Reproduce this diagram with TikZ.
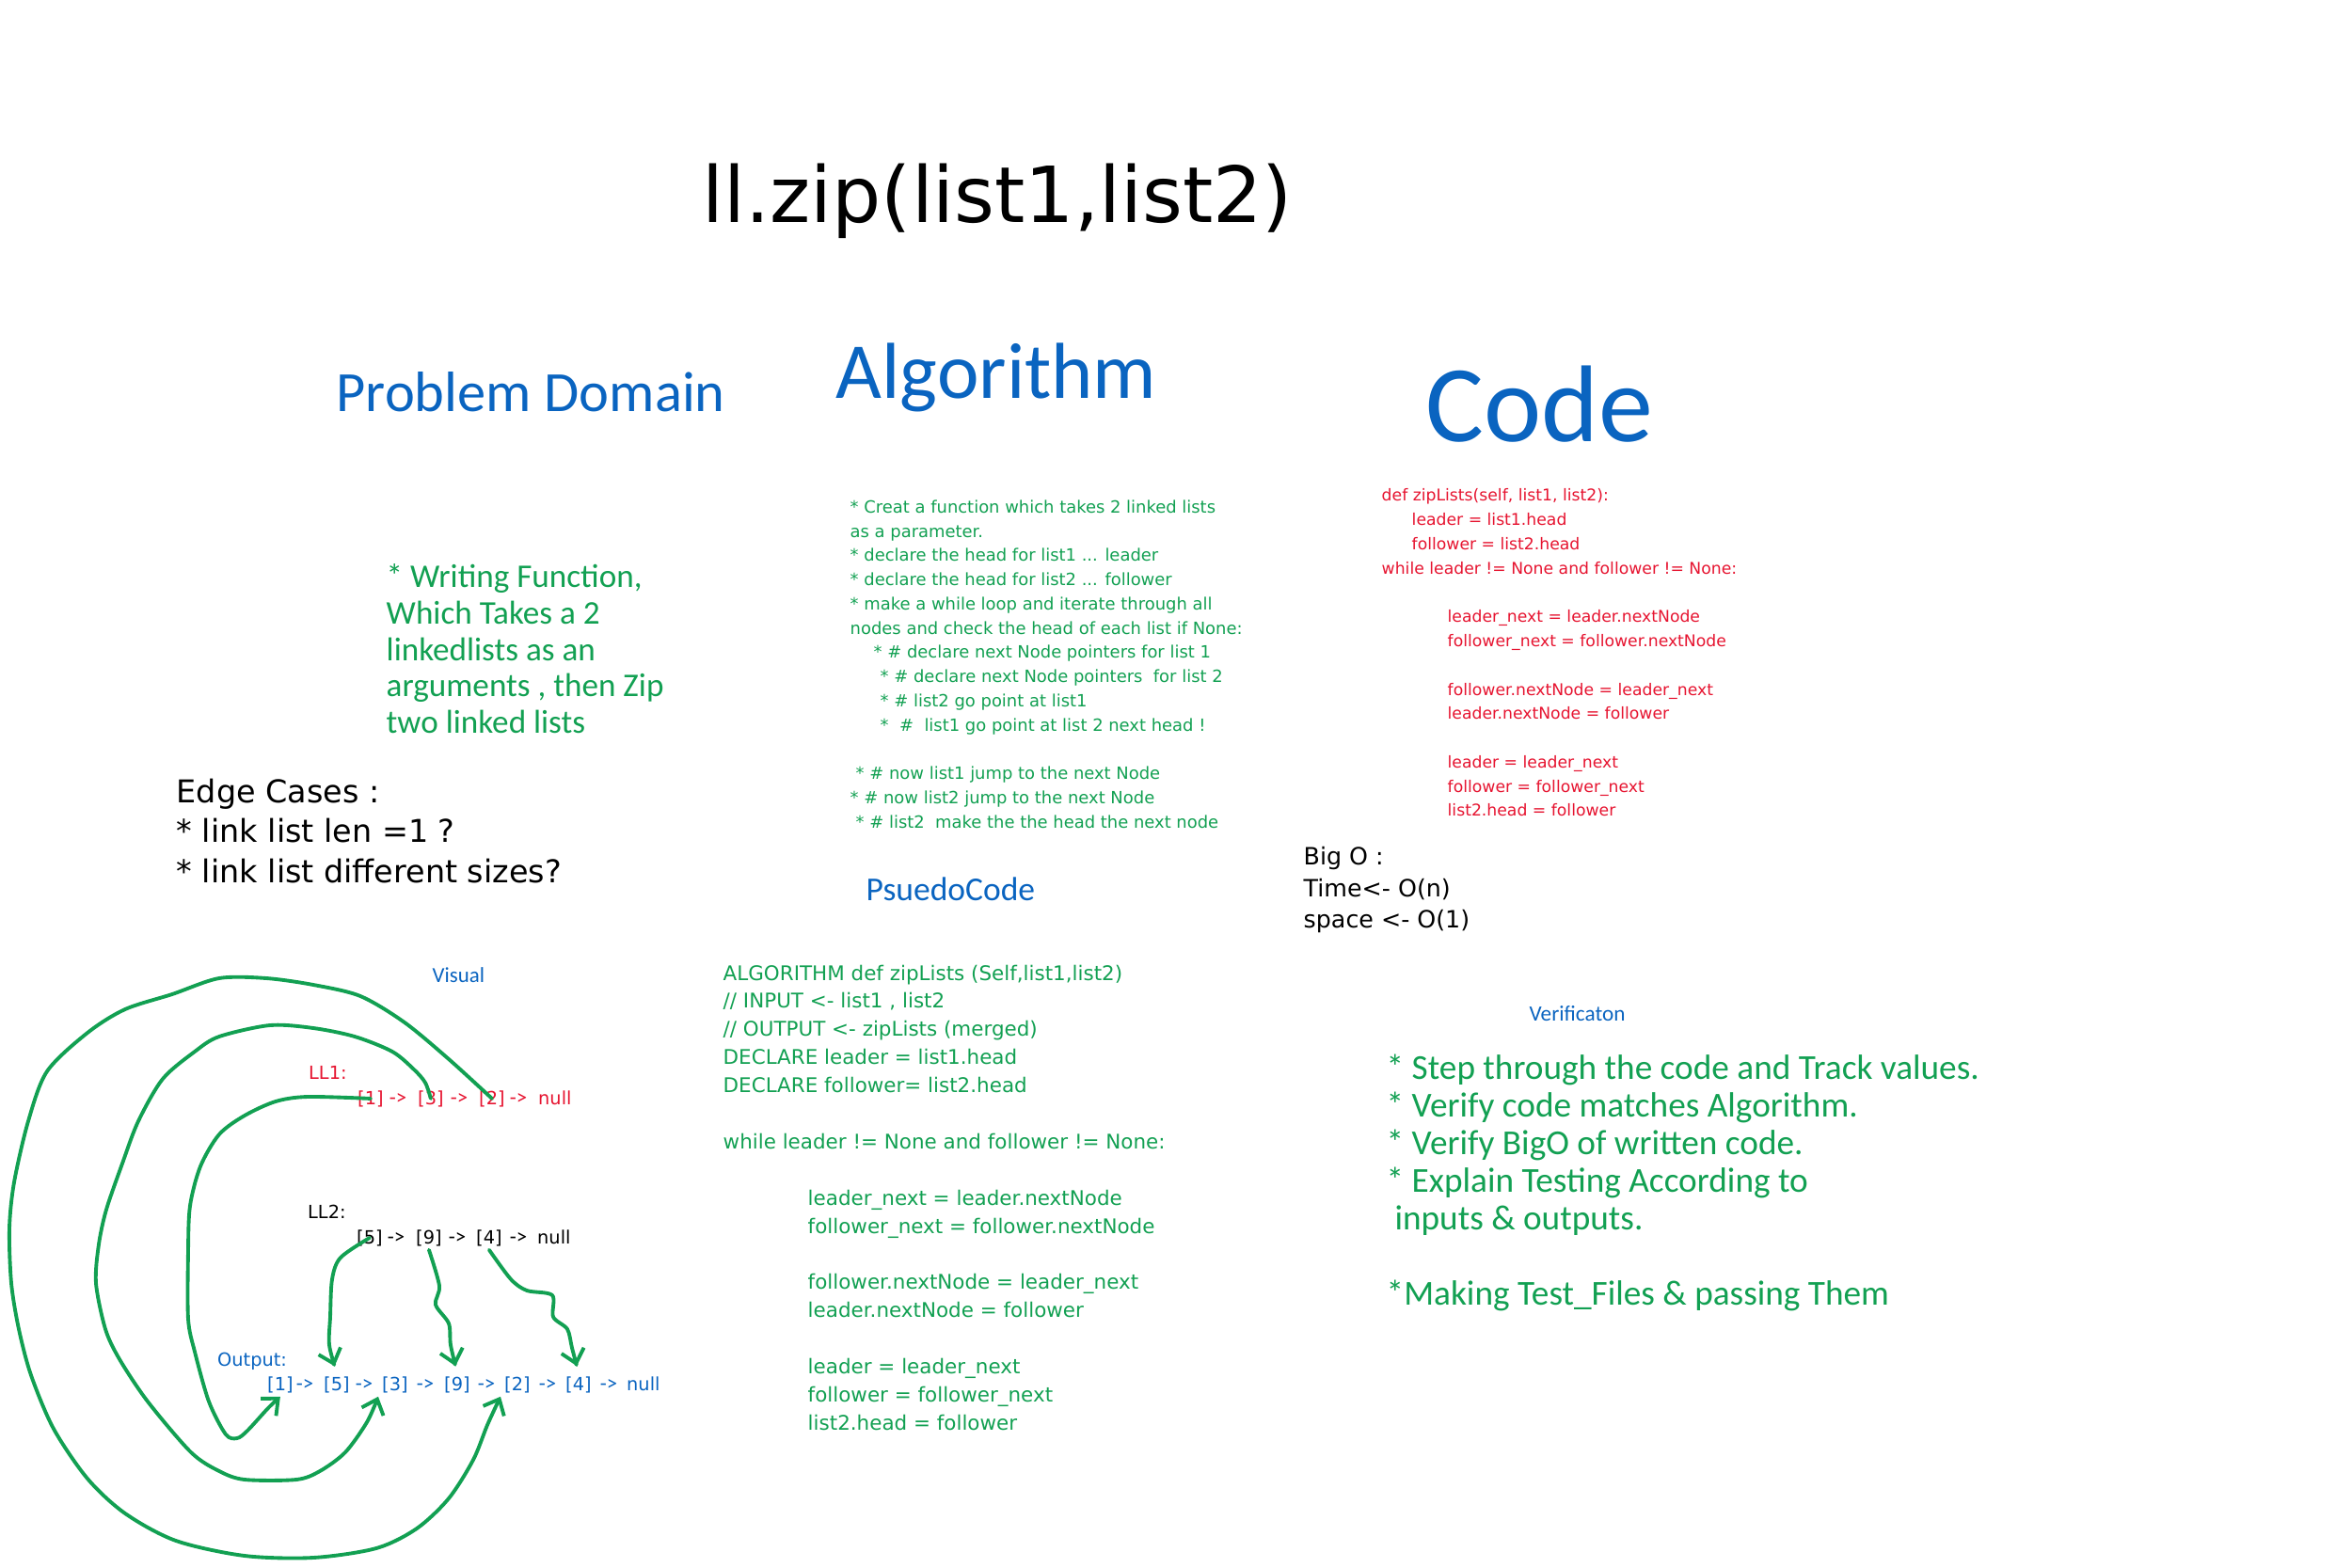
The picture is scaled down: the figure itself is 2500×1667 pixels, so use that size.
\documentclass[tikz,border=0pt]{standalone}
\usepackage{fontspec}
\setmainfont{DejaVu Sans}
\newfontfamily\penfont{Carlito}
\usetikzlibrary{arrows.meta,positioning}
\definecolor{inkgreen}{RGB}{18,160,82}
\definecolor{inkred}{RGB}{230,20,48}
\definecolor{inkblue}{RGB}{10,100,192}
\newcommand{\setfs}[2]{\fontsize{#1}{#2}\selectfont}

\begin{document}
\begin{tikzpicture}[
  x=0.01cm, y=-0.01cm,
  >={Straight Barb[length=4pt,width=7pt]},
  txt/.style={inner sep=0pt,align=left,anchor=north west},
  heading/.style={inner sep=0pt,anchor=base west,text=inkblue},
  item/.style={inner sep=1pt,anchor=base west,font=\setfs{5.5pt}{6.6pt}},
  link/.style={inner sep=1pt,anchor=base,font=\penfont\setfs{6.5pt}{7pt}},
  pointer/.style={->,draw=inkgreen,line width=1.1pt,line cap=round,line join=round},
]
\useasboundingbox (0,0) rectangle (2500,1667);

% title and section headings
\node[inner sep=0pt,anchor=base west,font=\setfs{23.4pt}{28pt}] (title) at (746,237) {ll.zip(list1,list2)};
\node[heading,font=\penfont\setfs{17.2pt}{20pt}] (probhead) at (357,438) {Problem Domain};
\node[heading,font=\penfont\setfs{24pt}{28pt}] (alghead) at (888,424) {Algorithm};
\node[heading,font=\penfont\setfs{33pt}{38pt}] (codehead) at (1515,470) {Code};

% problem domain
\node[txt,text=inkgreen,font=\penfont\setfs{10pt}{11pt}] (probtext) at (410,599)
  {* Writing Function,\\Which Takes a 2\\linkedlists as an\\arguments , then Zip\\two linked lists};
\node[txt,font=\setfs{9.5pt}{12.2pt}] (edgecases) at (187,827)
  {Edge Cases :\\* link list len =1 ?\\* link list different sizes?};

% algorithm
\node[txt,text=inkgreen,font=\setfs{5.1pt}{7.33pt}] (algtext) at (903,531)
  {* Creat a function which takes 2 linked lists\\
   as a parameter.\\
   * declare the head for list1 ... leader\\
   * declare the head for list2 ... follower\\
   * make a while loop and iterate through all\\
   nodes and check the head of each list if None:\\
   \hspace*{7.1pt}* \# declare next Node pointers for list 1\\
   \hspace*{9.1pt}* \# declare next Node pointers\ \ for list 2\\
   \hspace*{9.1pt}* \# list2 go point at list1\\
   \hspace*{9.1pt}*\ \ \#\ \ list1 go point at list 2 next head !\\[7.33pt]
   \hspace*{1.7pt}* \# now list1 jump to the next Node\\
   * \# now list2 jump to the next Node\\
   \hspace*{1.7pt}* \# list2\ \ make the the head the next node};

% code
\node[txt,text=inkred,font=\setfs{4.9pt}{7.33pt}] (codetext) at (1468,519)
  {def zipLists(self, list1, list2):\\
   \hspace*{9.1pt}leader = list1.head\\
   \hspace*{9.1pt}follower = list2.head\\
   while leader != None and follower != None:\\[7.33pt]
   \hspace*{19.9pt}leader\_next = leader.nextNode\\
   \hspace*{19.9pt}follower\_next = follower.nextNode\\[7.33pt]
   \hspace*{19.9pt}follower.nextNode = leader\_next\\
   \hspace*{19.9pt}leader.nextNode = follower\\[7.33pt]
   \hspace*{19.9pt}leader = leader\_next\\
   \hspace*{19.9pt}follower = follower\_next\\
   \hspace*{19.9pt}list2.head = follower};
\node[txt,font=\setfs{7.2pt}{9.5pt}] (bigo) at (1385,900)
  {Big O :\\Time<- O(n)\\space <- O(1)};

% pseudocode
\node[heading,font=\penfont\setfs{10.1pt}{11pt}] (pseudohead) at (920,957) {PsuedoCode};
\node[txt,text=inkgreen,font=\setfs{6.1pt}{8.5pt}] (pseudotext) at (768,1025)
  {ALGORITHM def zipLists (Self,list1,list2)\\
   // INPUT <- list1 , list2\\
   // OUTPUT <- zipLists (merged)\\
   DECLARE leader = list1.head\\
   DECLARE follower= list2.head\\[8.5pt]
   while leader != None and follower != None:\\[8.5pt]
   \hspace*{25.6pt}leader\_next = leader.nextNode\\
   \hspace*{25.6pt}follower\_next = follower.nextNode\\[8.5pt]
   \hspace*{25.6pt}follower.nextNode = leader\_next\\
   \hspace*{25.6pt}leader.nextNode = follower\\[8.5pt]
   \hspace*{25.6pt}leader = leader\_next\\
   \hspace*{25.6pt}follower = follower\_next\\
   \hspace*{25.6pt}list2.head = follower};

% verification
\node[heading,font=\penfont\setfs{6.6pt}{8pt}] (verifhead) at (1625,1085) {Verificaton};
\node[txt,text=inkgreen,font=\penfont\setfs{10.6pt}{11.4pt}] (veriftext) at (1473,1120)
  {* Step through the code and Track values.\\
   * Verify code matches Algorithm.\\
   * Verify BigO of written code.\\
   * Explain Testing According to\\
   \hspace*{2.5pt}inputs \& outputs.\\[11.4pt]
   *Making Test\_Files \& passing Them};

% visual
\node[heading,font=\penfont\setfs{6.5pt}{8pt}] (visualhead) at (459,1044) {Visual};
\node[item,text=inkred] (ll1label) at (324,1147) {LL1:};
\node[item] (ll2label) at (323,1295) {LL2:};
\node[item,text=inkblue] (outlabel) at (227,1452) {Output:};

\foreach \nm/\tx/\x in {l1a/[1]/376,l1b/[3]/440,l1c/[2]/505,l1n/null/568}
  \node[item,text=inkred] (\nm) at (\x,1174) {\tx};
\foreach \x [count=\k] in {423,488,551}
  \node[link,text=inkred] (l1to\k) at (\x,1174) {->};

\foreach \nm/\tx/\x in {b5/[5]/375,b9/[9]/438,b4/[4]/502,bn/null/567}
  \node[item] (\nm) at (\x,1322) {\tx};
\foreach \x [count=\k] in {421,486,551}
  \node[link] (l2to\k) at (\x,1322) {->};

\foreach \nm/\tx/\x in {o1/[1]/280,o5/[5]/340,o3/[3]/402,o9/[9]/468,o2/[2]/532,o4/[4]/597,on/null/662}
  \node[item,text=inkblue] (\nm) at (\x,1478) {\tx};
\foreach \x [count=\k] in {324,387,452,517,582,647}
  \node[link,text=inkblue] (outto\k) at (\x,1478) {->};

% LL1 nodes swing round to the output
\draw[pointer] plot[smooth] coordinates {(l1a.center) (327,1166) (293,1171) (260,1186) (233,1206)
  (213,1240) (202,1282) (200,1330) (200,1402) (207,1437) (222,1490) (240,1525) (252,1529)
  (263,1521) (285,1497) (o1.south)};
\draw[pointer] plot[smooth] coordinates {(l1b.center) (452,1151) (440,1137) (417,1118) (377,1102)
  (333,1093) (287,1090) (233,1102) (207,1118) (173,1147) (147,1192) (130,1237) (113,1286)
  (105,1323) (102,1364) (112,1413) (127,1445) (157,1490) (203,1544) (233,1564) (260,1573)
  (315,1573) (340,1564) (367,1544) (390,1512) (o3.south west)};
\draw[pointer] plot[smooth] coordinates {(l1c.center) (477,1126) (430,1087) (383,1059) (333,1047)
  (283,1040) (233,1040) (183,1057) (133,1073) (93,1098) (50,1139) (30,1192) (15,1257) (10,1306)
  (12,1364) (20,1413) (33,1462) (57,1519) (93,1572) (133,1609) (187,1638) (260,1654) (333,1656)
  (400,1646) (443,1625) (477,1593) (503,1552) (518,1515) (o2.south west)};

% LL2 nodes drop down
\draw[pointer,shorten >=2pt] plot[smooth] coordinates {(b5.center) (362,1337) (353,1360) (351,1400)
  (350,1430) (o5.north)};
\draw[pointer,shorten >=2pt] plot[smooth] coordinates {(b9.south) (467,1367) (463,1387) (477,1407)
  (479,1430) (o9.north)};
\draw[pointer,shorten >=2pt] plot[smooth] coordinates {(b4.south) (543,1360) (560,1372) (587,1377)
  (588,1400) (603,1413) (608,1433) (o4.north)};
\end{tikzpicture}
\end{document}
